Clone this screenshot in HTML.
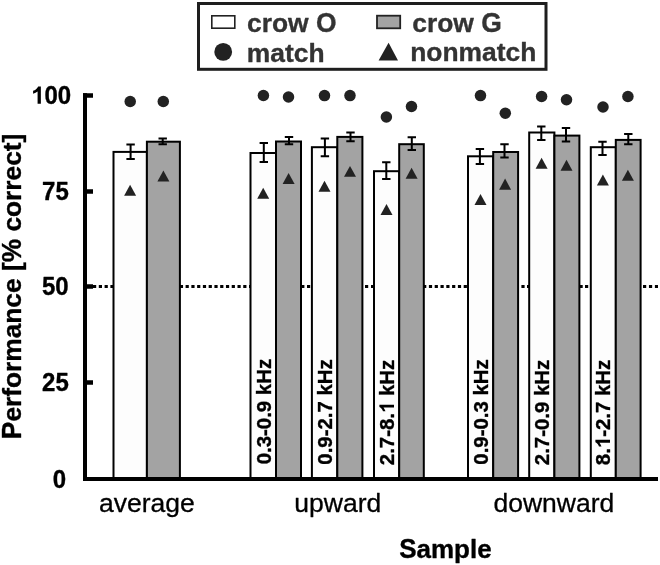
<!DOCTYPE html>
<html><head><meta charset="utf-8"><title>chart</title><style>html,body{margin:0;padding:0;background:#fff;overflow:hidden;}svg{display:block;will-change:transform;}text{font-family:"Liberation Sans",sans-serif;}</style></head><body>
<svg width="660" height="565" viewBox="0 0 660 565">
<rect x="0" y="0" width="660" height="565" fill="#fff"/>
<path d="M87.20 285.1h3.20v2.8h-3.20zM93.00 285.1h3.20v2.8h-3.20zM98.80 285.1h3.20v2.8h-3.20zM104.60 285.1h3.20v2.8h-3.20zM110.40 285.1h3.20v2.8h-3.20zM179.84 285.1h3.20v2.8h-3.20zM185.60 285.1h3.20v2.8h-3.20zM191.36 285.1h3.20v2.8h-3.20zM197.13 285.1h3.20v2.8h-3.20zM202.89 285.1h3.20v2.8h-3.20zM208.66 285.1h3.20v2.8h-3.20zM214.42 285.1h3.20v2.8h-3.20zM220.18 285.1h3.20v2.8h-3.20zM225.95 285.1h3.20v2.8h-3.20zM231.71 285.1h3.20v2.8h-3.20zM237.48 285.1h3.20v2.8h-3.20zM243.24 285.1h3.20v2.8h-3.20zM249.00 285.1h3.20v2.8h-3.20zM301.20 285.1h3.20v2.8h-3.20zM307.00 285.1h3.20v2.8h-3.20zM359.00 285.1h3.20v2.8h-3.20zM365.00 285.1h3.20v2.8h-3.20zM371.00 285.1h3.20v2.8h-3.20zM423.10 285.1h3.20v2.8h-3.20zM428.90 285.1h3.20v2.8h-3.20zM434.70 285.1h3.20v2.8h-3.20zM440.50 285.1h3.20v2.8h-3.20zM446.30 285.1h3.20v2.8h-3.20zM452.10 285.1h3.20v2.8h-3.20zM457.90 285.1h3.20v2.8h-3.20zM463.70 285.1h3.20v2.8h-3.20zM515.80 285.1h3.20v2.8h-3.20zM521.40 285.1h3.20v2.8h-3.20zM527.00 285.1h3.20v2.8h-3.20zM579.50 285.1h3.20v2.8h-3.20zM585.00 285.1h3.20v2.8h-3.20zM590.50 285.1h3.20v2.8h-3.20zM637.05 285.1h3.20v2.8h-3.20zM643.00 285.1h3.20v2.8h-3.20zM648.95 285.1h3.20v2.8h-3.20zM654.90 285.1h3.10v2.8h-3.10z" fill="#000"/>
<rect x="113.5" y="151.9" width="33.40" height="327.10" fill="#fdfdfd" stroke="#000" stroke-width="2"/>
<rect x="146.9" y="141.7" width="33.00" height="337.30" fill="#a3a3a3" stroke="#000" stroke-width="2"/>
<rect x="250.5" y="153.0" width="25.50" height="326.00" fill="#fdfdfd" stroke="#000" stroke-width="2"/>
<rect x="276.0" y="141.5" width="25.00" height="337.50" fill="#a3a3a3" stroke="#000" stroke-width="2"/>
<rect x="311.9" y="147.2" width="25.40" height="331.80" fill="#fdfdfd" stroke="#000" stroke-width="2"/>
<rect x="337.3" y="136.9" width="25.10" height="342.10" fill="#a3a3a3" stroke="#000" stroke-width="2"/>
<rect x="374.0" y="171.2" width="25.20" height="307.80" fill="#fdfdfd" stroke="#000" stroke-width="2"/>
<rect x="399.2" y="144.2" width="24.60" height="334.80" fill="#a3a3a3" stroke="#000" stroke-width="2"/>
<rect x="468.0" y="156.3" width="25.20" height="322.70" fill="#fdfdfd" stroke="#000" stroke-width="2"/>
<rect x="493.2" y="152.0" width="24.90" height="327.00" fill="#a3a3a3" stroke="#000" stroke-width="2"/>
<rect x="529.2" y="132.5" width="25.20" height="346.50" fill="#fdfdfd" stroke="#000" stroke-width="2"/>
<rect x="554.4" y="135.6" width="25.00" height="343.40" fill="#a3a3a3" stroke="#000" stroke-width="2"/>
<rect x="590.8" y="147.2" width="25.00" height="331.80" fill="#fdfdfd" stroke="#000" stroke-width="2"/>
<rect x="615.8" y="139.9" width="24.80" height="339.10" fill="#a3a3a3" stroke="#000" stroke-width="2"/>
<path d="M130.6 144.4V159.0M126.4 144.4H134.8M126.4 159.0H134.8" stroke="#000" stroke-width="2" fill="none"/>
<path d="M162.7 138.5V144.2M158.5 138.5H166.9M158.5 144.2H166.9" stroke="#000" stroke-width="2" fill="none"/>
<path d="M263.8 143.0V162.0M259.6 143.0H268.0M259.6 162.0H268.0" stroke="#000" stroke-width="2" fill="none"/>
<path d="M289.0 137.0V144.3M284.8 137.0H293.2M284.8 144.3H293.2" stroke="#000" stroke-width="2" fill="none"/>
<path d="M324.9 138.4V156.3M320.7 138.4H329.1M320.7 156.3H329.1" stroke="#000" stroke-width="2" fill="none"/>
<path d="M350.5 132.4V141.3M346.3 132.4H354.7M346.3 141.3H354.7" stroke="#000" stroke-width="2" fill="none"/>
<path d="M386.3 162.2V178.9M382.1 162.2H390.5M382.1 178.9H390.5" stroke="#000" stroke-width="2" fill="none"/>
<path d="M411.8 137.3V150.0M407.6 137.3H416.0M407.6 150.0H416.0" stroke="#000" stroke-width="2" fill="none"/>
<path d="M479.9 149.0V164.0M475.7 149.0H484.1M475.7 164.0H484.1" stroke="#000" stroke-width="2" fill="none"/>
<path d="M504.5 144.3V157.5M500.3 144.3H508.7M500.3 157.5H508.7" stroke="#000" stroke-width="2" fill="none"/>
<path d="M541.3 126.5V139.9M537.1 126.5H545.5M537.1 139.9H545.5" stroke="#000" stroke-width="2" fill="none"/>
<path d="M566.0 128.0V141.5M561.8 128.0H570.2M561.8 141.5H570.2" stroke="#000" stroke-width="2" fill="none"/>
<path d="M602.5 141.7V154.9M598.3 141.7H606.7M598.3 154.9H606.7" stroke="#000" stroke-width="2" fill="none"/>
<path d="M628.3 134.0V144.3M624.1 134.0H632.5M624.1 144.3H632.5" stroke="#000" stroke-width="2" fill="none"/>
<circle cx="130.2" cy="101.5" r="5.75" fill="#222"/>
<circle cx="163.3" cy="101.5" r="5.75" fill="#222"/>
<circle cx="263.4" cy="95.5" r="5.75" fill="#222"/>
<circle cx="288.5" cy="97.0" r="5.75" fill="#222"/>
<circle cx="324.5" cy="95.6" r="5.75" fill="#222"/>
<circle cx="350.0" cy="95.6" r="5.75" fill="#222"/>
<circle cx="386.4" cy="117.0" r="5.75" fill="#222"/>
<circle cx="411.5" cy="106.5" r="5.75" fill="#222"/>
<circle cx="480.5" cy="95.6" r="5.75" fill="#222"/>
<circle cx="505.3" cy="113.3" r="5.75" fill="#222"/>
<circle cx="541.6" cy="96.5" r="5.75" fill="#222"/>
<circle cx="566.5" cy="99.8" r="5.75" fill="#222"/>
<circle cx="603.0" cy="107.0" r="5.75" fill="#222"/>
<circle cx="627.9" cy="96.5" r="5.75" fill="#222"/>
<path d="M124.1 195.7L136.1 195.7L130.1 184.8Z" fill="#222"/>
<path d="M157.4 181.5L169.4 181.5L163.4 170.6Z" fill="#222"/>
<path d="M257.2 198.8L269.2 198.8L263.2 187.7Z" fill="#222"/>
<path d="M282.6 183.9L294.6 183.9L288.6 173.0Z" fill="#222"/>
<path d="M318.5 191.8L330.5 191.8L324.5 180.7Z" fill="#222"/>
<path d="M344.0 176.8L356.0 176.8L350.0 165.9Z" fill="#222"/>
<path d="M380.5 215.0L392.5 215.0L386.5 204.1Z" fill="#222"/>
<path d="M405.6 178.8L417.6 178.8L411.6 167.7Z" fill="#222"/>
<path d="M474.5 205.0L486.5 205.0L480.5 194.1Z" fill="#222"/>
<path d="M499.1 189.7L511.1 189.7L505.1 178.6Z" fill="#222"/>
<path d="M535.6 168.8L547.6 168.8L541.6 157.7Z" fill="#222"/>
<path d="M560.5 170.7L572.5 170.7L566.5 159.7Z" fill="#222"/>
<path d="M596.9 185.5L608.9 185.5L602.9 174.5Z" fill="#222"/>
<path d="M621.9 180.7L633.9 180.7L627.9 169.8Z" fill="#222"/>
<g transform="translate(271.40 464.30) rotate(-90)"><text x="0.00" y="0" transform="scale(1 1.0)" font-size="20.4" font-weight="bold" fill="#000" stroke="#000" stroke-width="0.35" stroke-linejoin="round" xml:space="preserve">0</text><text x="11.35" y="0" transform="scale(1 0.985)" font-size="20.4" font-weight="bold" fill="#000" stroke="#000" stroke-width="0.35" stroke-linejoin="round" xml:space="preserve">.</text><text x="17.01" y="0" transform="scale(1 1.0)" font-size="20.4" font-weight="bold" fill="#000" stroke="#000" stroke-width="0.35" stroke-linejoin="round" xml:space="preserve">3</text><text x="28.36" y="0" transform="scale(1 0.985)" font-size="20.4" font-weight="bold" fill="#000" stroke="#000" stroke-width="0.35" stroke-linejoin="round" xml:space="preserve">-</text><text x="35.15" y="0" transform="scale(1 1.0)" font-size="20.4" font-weight="bold" fill="#000" stroke="#000" stroke-width="0.35" stroke-linejoin="round" xml:space="preserve">0</text><text x="46.50" y="0" transform="scale(1 0.985)" font-size="20.4" font-weight="bold" fill="#000" stroke="#000" stroke-width="0.35" stroke-linejoin="round" xml:space="preserve">.</text><text x="52.17" y="0" transform="scale(1 1.0)" font-size="20.4" font-weight="bold" fill="#000" stroke="#000" stroke-width="0.35" stroke-linejoin="round" xml:space="preserve">9</text><text x="63.51" y="0" transform="scale(1 0.985)" font-size="20.4" font-weight="bold" fill="#000" stroke="#000" stroke-width="0.35" stroke-linejoin="round" xml:space="preserve"> k</text><text x="80.52" y="0" transform="scale(1 1.0)" font-size="20.4" font-weight="bold" fill="#000" stroke="#000" stroke-width="0.35" stroke-linejoin="round" xml:space="preserve">H</text><text x="95.26" y="0" transform="scale(1 0.985)" font-size="20.4" font-weight="bold" fill="#000" stroke="#000" stroke-width="0.35" stroke-linejoin="round" xml:space="preserve">z</text></g>
<g transform="translate(332.00 464.70) rotate(-90)"><text x="0.00" y="0" transform="scale(1 1.0)" font-size="20.4" font-weight="bold" fill="#000" stroke="#000" stroke-width="0.35" stroke-linejoin="round" xml:space="preserve">0</text><text x="11.35" y="0" transform="scale(1 0.985)" font-size="20.4" font-weight="bold" fill="#000" stroke="#000" stroke-width="0.35" stroke-linejoin="round" xml:space="preserve">.</text><text x="17.01" y="0" transform="scale(1 1.0)" font-size="20.4" font-weight="bold" fill="#000" stroke="#000" stroke-width="0.35" stroke-linejoin="round" xml:space="preserve">9</text><text x="28.36" y="0" transform="scale(1 0.985)" font-size="20.4" font-weight="bold" fill="#000" stroke="#000" stroke-width="0.35" stroke-linejoin="round" xml:space="preserve">-</text><text x="35.15" y="0" transform="scale(1 1.0)" font-size="20.4" font-weight="bold" fill="#000" stroke="#000" stroke-width="0.35" stroke-linejoin="round" xml:space="preserve">2</text><text x="46.50" y="0" transform="scale(1 0.985)" font-size="20.4" font-weight="bold" fill="#000" stroke="#000" stroke-width="0.35" stroke-linejoin="round" xml:space="preserve">.</text><text x="52.17" y="0" transform="scale(1 1.0)" font-size="20.4" font-weight="bold" fill="#000" stroke="#000" stroke-width="0.35" stroke-linejoin="round" xml:space="preserve">7</text><text x="63.51" y="0" transform="scale(1 0.985)" font-size="20.4" font-weight="bold" fill="#000" stroke="#000" stroke-width="0.35" stroke-linejoin="round" xml:space="preserve"> k</text><text x="80.52" y="0" transform="scale(1 1.0)" font-size="20.4" font-weight="bold" fill="#000" stroke="#000" stroke-width="0.35" stroke-linejoin="round" xml:space="preserve">H</text><text x="95.26" y="0" transform="scale(1 0.985)" font-size="20.4" font-weight="bold" fill="#000" stroke="#000" stroke-width="0.35" stroke-linejoin="round" xml:space="preserve">z</text></g>
<g transform="translate(394.00 465.20) rotate(-90)"><text x="0.00" y="0" transform="scale(1 1.0)" font-size="20.4" font-weight="bold" fill="#000" stroke="#000" stroke-width="0.35" stroke-linejoin="round" xml:space="preserve">2</text><text x="11.35" y="0" transform="scale(1 0.985)" font-size="20.4" font-weight="bold" fill="#000" stroke="#000" stroke-width="0.35" stroke-linejoin="round" xml:space="preserve">.</text><text x="17.01" y="0" transform="scale(1 1.0)" font-size="20.4" font-weight="bold" fill="#000" stroke="#000" stroke-width="0.35" stroke-linejoin="round" xml:space="preserve">7</text><text x="28.36" y="0" transform="scale(1 0.985)" font-size="20.4" font-weight="bold" fill="#000" stroke="#000" stroke-width="0.35" stroke-linejoin="round" xml:space="preserve">-</text><text x="35.15" y="0" transform="scale(1 1.0)" font-size="20.4" font-weight="bold" fill="#000" stroke="#000" stroke-width="0.35" stroke-linejoin="round" xml:space="preserve">8</text><text x="46.50" y="0" transform="scale(1 0.985)" font-size="20.4" font-weight="bold" fill="#000" stroke="#000" stroke-width="0.35" stroke-linejoin="round" xml:space="preserve">.</text><path transform="translate(52.17 0) scale(20.4)" d="M0.408 0L0.408 -0.716L0.296 -0.716C0.270 -0.655 0.215 -0.598 0.150 -0.566C0.125 -0.554 0.105 -0.546 0.085 -0.540L0.085 -0.418C0.160 -0.443 0.222 -0.478 0.272 -0.516L0.272 0Z" fill="#000"/><text x="63.51" y="0" transform="scale(1 0.985)" font-size="20.4" font-weight="bold" fill="#000" stroke="#000" stroke-width="0.35" stroke-linejoin="round" xml:space="preserve"> k</text><text x="80.52" y="0" transform="scale(1 1.0)" font-size="20.4" font-weight="bold" fill="#000" stroke="#000" stroke-width="0.35" stroke-linejoin="round" xml:space="preserve">H</text><text x="95.26" y="0" transform="scale(1 0.985)" font-size="20.4" font-weight="bold" fill="#000" stroke="#000" stroke-width="0.35" stroke-linejoin="round" xml:space="preserve">z</text></g>
<g transform="translate(488.00 464.70) rotate(-90)"><text x="0.00" y="0" transform="scale(1 1.0)" font-size="20.4" font-weight="bold" fill="#000" stroke="#000" stroke-width="0.35" stroke-linejoin="round" xml:space="preserve">0</text><text x="11.35" y="0" transform="scale(1 0.985)" font-size="20.4" font-weight="bold" fill="#000" stroke="#000" stroke-width="0.35" stroke-linejoin="round" xml:space="preserve">.</text><text x="17.01" y="0" transform="scale(1 1.0)" font-size="20.4" font-weight="bold" fill="#000" stroke="#000" stroke-width="0.35" stroke-linejoin="round" xml:space="preserve">9</text><text x="28.36" y="0" transform="scale(1 0.985)" font-size="20.4" font-weight="bold" fill="#000" stroke="#000" stroke-width="0.35" stroke-linejoin="round" xml:space="preserve">-</text><text x="35.15" y="0" transform="scale(1 1.0)" font-size="20.4" font-weight="bold" fill="#000" stroke="#000" stroke-width="0.35" stroke-linejoin="round" xml:space="preserve">0</text><text x="46.50" y="0" transform="scale(1 0.985)" font-size="20.4" font-weight="bold" fill="#000" stroke="#000" stroke-width="0.35" stroke-linejoin="round" xml:space="preserve">.</text><text x="52.17" y="0" transform="scale(1 1.0)" font-size="20.4" font-weight="bold" fill="#000" stroke="#000" stroke-width="0.35" stroke-linejoin="round" xml:space="preserve">3</text><text x="63.51" y="0" transform="scale(1 0.985)" font-size="20.4" font-weight="bold" fill="#000" stroke="#000" stroke-width="0.35" stroke-linejoin="round" xml:space="preserve"> k</text><text x="80.52" y="0" transform="scale(1 1.0)" font-size="20.4" font-weight="bold" fill="#000" stroke="#000" stroke-width="0.35" stroke-linejoin="round" xml:space="preserve">H</text><text x="95.26" y="0" transform="scale(1 0.985)" font-size="20.4" font-weight="bold" fill="#000" stroke="#000" stroke-width="0.35" stroke-linejoin="round" xml:space="preserve">z</text></g>
<g transform="translate(549.00 465.20) rotate(-90)"><text x="0.00" y="0" transform="scale(1 1.0)" font-size="20.4" font-weight="bold" fill="#000" stroke="#000" stroke-width="0.35" stroke-linejoin="round" xml:space="preserve">2</text><text x="11.35" y="0" transform="scale(1 0.985)" font-size="20.4" font-weight="bold" fill="#000" stroke="#000" stroke-width="0.35" stroke-linejoin="round" xml:space="preserve">.</text><text x="17.01" y="0" transform="scale(1 1.0)" font-size="20.4" font-weight="bold" fill="#000" stroke="#000" stroke-width="0.35" stroke-linejoin="round" xml:space="preserve">7</text><text x="28.36" y="0" transform="scale(1 0.985)" font-size="20.4" font-weight="bold" fill="#000" stroke="#000" stroke-width="0.35" stroke-linejoin="round" xml:space="preserve">-</text><text x="35.15" y="0" transform="scale(1 1.0)" font-size="20.4" font-weight="bold" fill="#000" stroke="#000" stroke-width="0.35" stroke-linejoin="round" xml:space="preserve">0</text><text x="46.50" y="0" transform="scale(1 0.985)" font-size="20.4" font-weight="bold" fill="#000" stroke="#000" stroke-width="0.35" stroke-linejoin="round" xml:space="preserve">.</text><text x="52.17" y="0" transform="scale(1 1.0)" font-size="20.4" font-weight="bold" fill="#000" stroke="#000" stroke-width="0.35" stroke-linejoin="round" xml:space="preserve">9</text><text x="63.51" y="0" transform="scale(1 0.985)" font-size="20.4" font-weight="bold" fill="#000" stroke="#000" stroke-width="0.35" stroke-linejoin="round" xml:space="preserve"> k</text><text x="80.52" y="0" transform="scale(1 1.0)" font-size="20.4" font-weight="bold" fill="#000" stroke="#000" stroke-width="0.35" stroke-linejoin="round" xml:space="preserve">H</text><text x="95.26" y="0" transform="scale(1 0.985)" font-size="20.4" font-weight="bold" fill="#000" stroke="#000" stroke-width="0.35" stroke-linejoin="round" xml:space="preserve">z</text></g>
<g transform="translate(610.00 465.20) rotate(-90)"><text x="0.00" y="0" transform="scale(1 1.0)" font-size="20.4" font-weight="bold" fill="#000" stroke="#000" stroke-width="0.35" stroke-linejoin="round" xml:space="preserve">8</text><text x="11.35" y="0" transform="scale(1 0.985)" font-size="20.4" font-weight="bold" fill="#000" stroke="#000" stroke-width="0.35" stroke-linejoin="round" xml:space="preserve">.</text><path transform="translate(17.01 0) scale(20.4)" d="M0.408 0L0.408 -0.716L0.296 -0.716C0.270 -0.655 0.215 -0.598 0.150 -0.566C0.125 -0.554 0.105 -0.546 0.085 -0.540L0.085 -0.418C0.160 -0.443 0.222 -0.478 0.272 -0.516L0.272 0Z" fill="#000"/><text x="28.36" y="0" transform="scale(1 0.985)" font-size="20.4" font-weight="bold" fill="#000" stroke="#000" stroke-width="0.35" stroke-linejoin="round" xml:space="preserve">-</text><text x="35.15" y="0" transform="scale(1 1.0)" font-size="20.4" font-weight="bold" fill="#000" stroke="#000" stroke-width="0.35" stroke-linejoin="round" xml:space="preserve">2</text><text x="46.50" y="0" transform="scale(1 0.985)" font-size="20.4" font-weight="bold" fill="#000" stroke="#000" stroke-width="0.35" stroke-linejoin="round" xml:space="preserve">.</text><text x="52.17" y="0" transform="scale(1 1.0)" font-size="20.4" font-weight="bold" fill="#000" stroke="#000" stroke-width="0.35" stroke-linejoin="round" xml:space="preserve">7</text><text x="63.51" y="0" transform="scale(1 0.985)" font-size="20.4" font-weight="bold" fill="#000" stroke="#000" stroke-width="0.35" stroke-linejoin="round" xml:space="preserve"> k</text><text x="80.52" y="0" transform="scale(1 1.0)" font-size="20.4" font-weight="bold" fill="#000" stroke="#000" stroke-width="0.35" stroke-linejoin="round" xml:space="preserve">H</text><text x="95.26" y="0" transform="scale(1 0.985)" font-size="20.4" font-weight="bold" fill="#000" stroke="#000" stroke-width="0.35" stroke-linejoin="round" xml:space="preserve">z</text></g>
<rect x="83" y="93.2" width="4" height="387.8" fill="#000"/>
<rect x="83" y="477" width="575" height="4" fill="#000"/>
<rect x="83" y="93.25" width="10" height="4.5" fill="#000"/>
<rect x="83" y="189.25" width="10" height="4.5" fill="#000"/>
<rect x="83" y="284.25" width="10" height="4.5" fill="#000"/>
<rect x="83" y="380.25" width="10" height="4.5" fill="#000"/>
<g transform="translate(71.10 103.80)"><path transform="translate(-40.04 0) scale(24)" d="M0.408 0L0.408 -0.716L0.296 -0.716C0.270 -0.655 0.215 -0.598 0.150 -0.566C0.125 -0.554 0.105 -0.546 0.085 -0.540L0.085 -0.418C0.160 -0.443 0.222 -0.478 0.272 -0.516L0.272 0Z" fill="#000"/><text x="-26.70" y="0" transform="scale(1 1.04)" font-size="24" font-weight="bold" fill="#000" stroke="#000" stroke-width="0.35" stroke-linejoin="round" xml:space="preserve">00</text></g>
<g transform="translate(68.80 200.00)"><text x="-26.70" y="0" transform="scale(1 1.04)" font-size="24" font-weight="bold" fill="#000" stroke="#000" stroke-width="0.35" stroke-linejoin="round" xml:space="preserve">75</text></g>
<g transform="translate(68.60 294.90)"><text x="-26.70" y="0" transform="scale(1 1.04)" font-size="24" font-weight="bold" fill="#000" stroke="#000" stroke-width="0.35" stroke-linejoin="round" xml:space="preserve">50</text></g>
<g transform="translate(68.80 391.30)"><text x="-26.70" y="0" transform="scale(1 1.04)" font-size="24" font-weight="bold" fill="#000" stroke="#000" stroke-width="0.35" stroke-linejoin="round" xml:space="preserve">25</text></g>
<g transform="translate(66.10 487.50)"><text x="-13.35" y="0" transform="scale(1 1.04)" font-size="24" font-weight="bold" fill="#000" stroke="#000" stroke-width="0.35" stroke-linejoin="round" xml:space="preserve">0</text></g>
<g transform="translate(21.20 286.40) rotate(-90)"><text x="-152.74" y="0" transform="scale(1 1.04)" font-size="26.3" font-weight="bold" fill="#000" stroke="#000" stroke-width="0.35" stroke-linejoin="round" xml:space="preserve">P</text><text x="-135.20" y="0" transform="scale(1 0.985)" font-size="26.3" font-weight="bold" fill="#000" stroke="#000" stroke-width="0.35" stroke-linejoin="round" xml:space="preserve">erformance [</text><text x="24.12" y="0" transform="scale(1 1.04)" font-size="26.3" font-weight="bold" fill="#000" stroke="#000" stroke-width="0.35" stroke-linejoin="round" xml:space="preserve">%</text><text x="47.50" y="0" transform="scale(1 0.985)" font-size="26.3" font-weight="bold" fill="#000" stroke="#000" stroke-width="0.35" stroke-linejoin="round" xml:space="preserve"> correct]</text></g>
<g transform="translate(146.80 512.00)"><text x="-47.88" y="0" transform="scale(1 0.985)" font-size="26.5" fill="#000" stroke="#000" stroke-width="0.3" stroke-linejoin="round" xml:space="preserve">average</text></g>
<g transform="translate(337.80 512.00)"><text x="-43.46" y="0" transform="scale(1 0.985)" font-size="26.5" fill="#000" stroke="#000" stroke-width="0.3" stroke-linejoin="round" xml:space="preserve">upward</text></g>
<g transform="translate(553.90 512.40)"><text x="-60.39" y="0" transform="scale(1 0.985)" font-size="26.5" fill="#000" stroke="#000" stroke-width="0.3" stroke-linejoin="round" xml:space="preserve">downward</text></g>
<g transform="translate(445.40 558.00)"><text x="-46.24" y="0" transform="scale(1 1.04)" font-size="26" font-weight="bold" fill="#000" stroke="#000" stroke-width="0.35" stroke-linejoin="round" xml:space="preserve">S</text><text x="-28.90" y="0" transform="scale(1 0.985)" font-size="26" font-weight="bold" fill="#000" stroke="#000" stroke-width="0.35" stroke-linejoin="round" xml:space="preserve">ample</text></g>
<rect x="198.5" y="3.5" width="347.5" height="65.8" fill="#fff" stroke="#1e1e1e" stroke-width="3"/>
<rect x="211.8" y="15.8" width="23" height="12.4" fill="#fff" stroke="#222" stroke-width="1.6"/>
<rect x="377" y="15.7" width="23.2" height="12.6" fill="#a3a3a3" stroke="#222" stroke-width="1.8"/>
<circle cx="223.2" cy="51.9" r="8.9" fill="#222"/>
<path d="M378.6 60.5L398 60.5L388.6 42.7Z" fill="#222"/>
<g transform="translate(247.00 31.50)"><text x="0.00" y="0" transform="scale(1 0.985)" font-size="26.4" font-weight="bold" fill="#333" stroke="#333" stroke-width="0.35" stroke-linejoin="round" xml:space="preserve">crow </text><text x="68.95" y="0" transform="scale(1 1.04)" font-size="26.4" font-weight="bold" fill="#333" stroke="#333" stroke-width="0.35" stroke-linejoin="round" xml:space="preserve">O</text></g>
<g transform="translate(412.30 31.50)"><text x="0.00" y="0" transform="scale(1 0.985)" font-size="26.4" font-weight="bold" fill="#333" stroke="#333" stroke-width="0.35" stroke-linejoin="round" xml:space="preserve">crow </text><text x="68.95" y="0" transform="scale(1 1.04)" font-size="26.4" font-weight="bold" fill="#333" stroke="#333" stroke-width="0.35" stroke-linejoin="round" xml:space="preserve">G</text></g>
<g transform="translate(246.80 61.70)"><text x="0.00" y="0" transform="scale(1 0.985)" font-size="26.4" font-weight="bold" fill="#333" stroke="#333" stroke-width="0.35" stroke-linejoin="round" xml:space="preserve">match</text></g>
<g transform="translate(410.20 61.30)"><text x="0.00" y="0" transform="scale(1 0.985)" font-size="26.4" font-weight="bold" fill="#333" stroke="#333" stroke-width="0.35" stroke-linejoin="round" xml:space="preserve">nonmatch</text></g>
</svg></body></html>
